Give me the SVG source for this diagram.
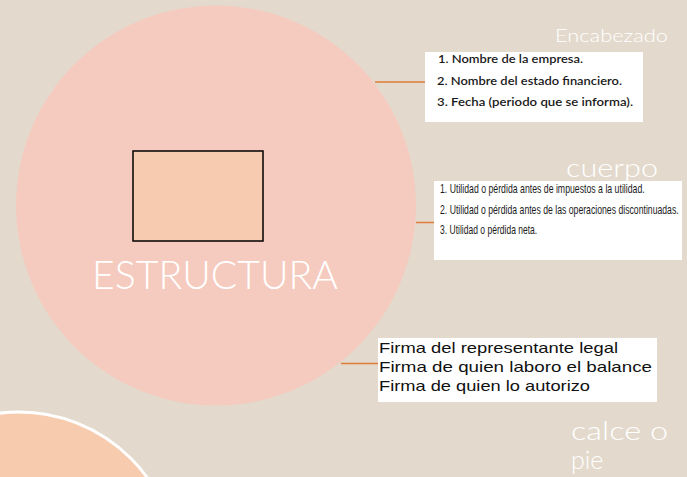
<svg xmlns="http://www.w3.org/2000/svg" width="687" height="477" viewBox="0 0 687 477">
<style>
.lbl{font-family:Lato,"Open Sans","Liberation Sans",Arial,sans-serif;font-weight:300;fill:#ffffff;}
.box{fill:#ffffff;}
.t1{font-family:Lato,"Liberation Sans",Arial,sans-serif;font-size:12px;font-weight:600;fill:#1a1a1a;}
.t2{font-family:"Liberation Sans",Arial,sans-serif;font-size:13px;fill:#1a1a1a;}
.t3{font-family:"Liberation Sans",Arial,sans-serif;font-size:15px;fill:#111111;}
.conn{stroke:#e07b39;stroke-width:1.5;fill:none;}
</style>
<rect x="0" y="0" width="687" height="477" fill="#e3dacd"/>
<g id="pie-circle">
<circle cx="19" cy="570" r="158" fill="#f7cbae" stroke="#ffffff" stroke-width="3"/>
</g>
<g id="estructura">
<circle cx="216" cy="205.5" r="200" fill="#f5cbbf"/>
<rect x="133" y="151" width="130" height="90" fill="#f7cbb0" stroke="#000000" stroke-width="1.5"/>
<text class="lbl" x="92" y="289" font-size="40" textLength="246" lengthAdjust="spacingAndGlyphs">ESTRUCTURA</text>
</g>
<g id="connectors">
<line class="conn" x1="375" y1="82" x2="425" y2="82"/>
<line class="conn" x1="416" y1="222.5" x2="434" y2="222.5"/>
<line class="conn" x1="341" y1="363.5" x2="378" y2="363.5"/>
</g>
<g id="encabezado">
<text class="lbl" x="555" y="42" font-size="18" textLength="113" lengthAdjust="spacingAndGlyphs">Encabezado</text>
<rect class="box" x="425" y="52" width="218" height="70"/>
<text class="t1" x="438" y="63" textLength="145" lengthAdjust="spacingAndGlyphs">1. Nombre de la empresa.</text>
<text class="t1" x="437" y="85" textLength="185" lengthAdjust="spacingAndGlyphs">2. Nombre del estado financiero.</text>
<text class="t1" x="437" y="106" textLength="196" lengthAdjust="spacingAndGlyphs">3. Fecha (periodo que se informa).</text>
</g>
<g id="cuerpo">
<text class="lbl" x="566" y="177" font-size="25" textLength="92" lengthAdjust="spacingAndGlyphs">cuerpo</text>
<rect class="box" x="434" y="181" width="248" height="79"/>
<g transform="translate(440,0) scale(0.68,1)">
<text class="t2" x="0" y="193" textLength="301" lengthAdjust="spacingAndGlyphs">1. Utilidad o pérdida antes de impuestos a la utilidad.</text>
<text class="t2" x="0" y="214" textLength="351" lengthAdjust="spacingAndGlyphs">2. Utilidad o pérdida antes de las operaciones discontinuadas.</text>
<text class="t2" x="0" y="234" textLength="143" lengthAdjust="spacingAndGlyphs">3. Utilidad o pérdida neta.</text>
</g>
</g>
<g id="calce">
<rect class="box" x="378" y="338" width="279" height="64"/>
<text class="t3" x="379" y="353" textLength="239" lengthAdjust="spacingAndGlyphs">Firma del representante legal</text>
<text class="t3" x="379" y="372" textLength="273" lengthAdjust="spacingAndGlyphs">Firma de quien laboro el balance</text>
<text class="t3" x="379" y="391" textLength="211" lengthAdjust="spacingAndGlyphs">Firma de quien lo autorizo</text>
<text class="lbl" x="571" y="440" font-size="25" textLength="97" lengthAdjust="spacingAndGlyphs">calce o</text>
<text class="lbl" x="571" y="469" font-size="25">pie</text>
</g>
</svg>
